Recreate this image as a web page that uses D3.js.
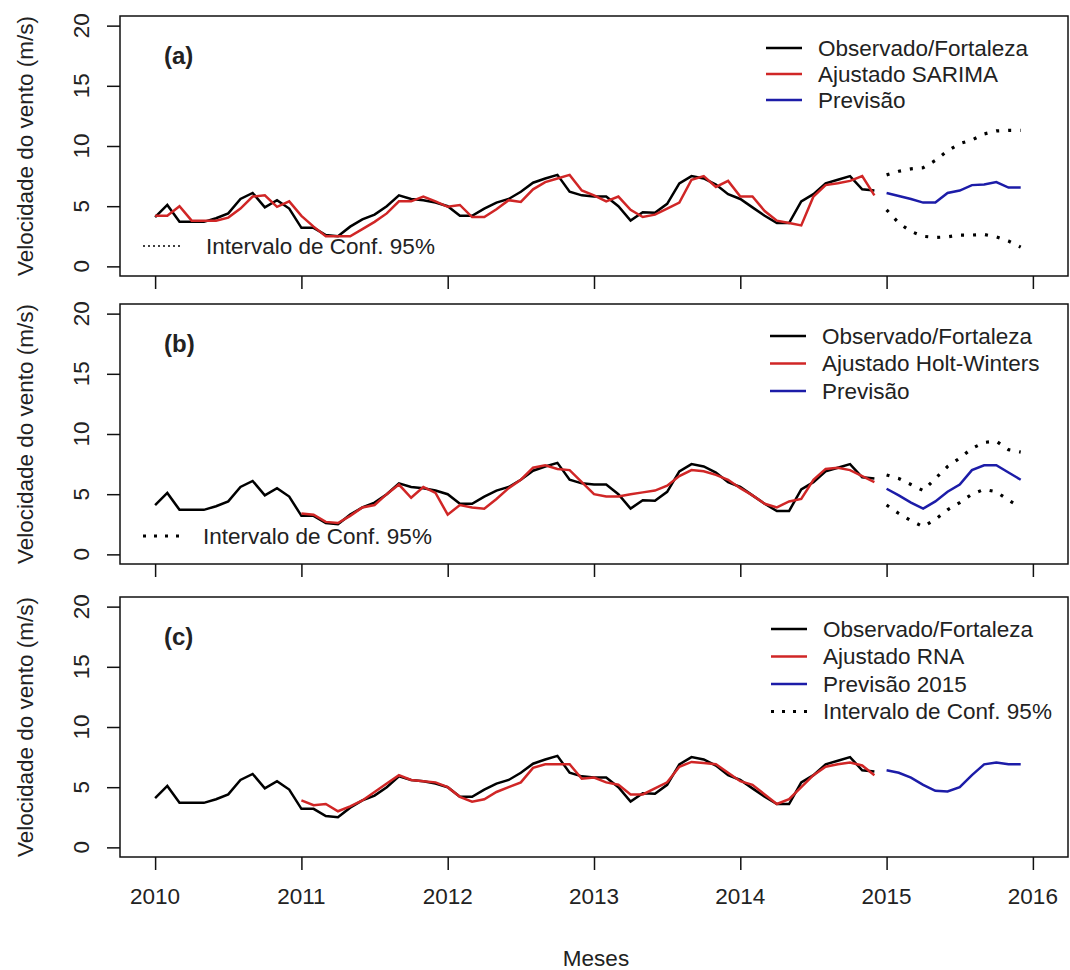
<!DOCTYPE html>
<html>
<head>
<meta charset="utf-8">
<script src="https://cdn.jsdelivr.net/npm/d3@7"></script>
<style>
  body { margin: 0; background: #fff; }
  text { font-family: "Liberation Sans", Arial, sans-serif; fill: #222; }
</style>
</head>
<body>
<div id="chart"></div>
<script>
// monthly series, Jan 2010 .. Dec 2014 (observed) and Jan..Dec 2015 (forecast)
var observed = [4.1, 5.1, 3.7, 3.7, 3.7, 4.0, 4.4, 5.6, 6.1, 4.9, 5.5, 4.8,
                3.2, 3.2, 2.6, 2.5, 3.3, 3.9, 4.3, 5.0, 5.9, 5.6, 5.5, 5.3,
                5.0, 4.2, 4.2, 4.8, 5.3, 5.6, 6.2, 6.95, 7.3, 7.6, 6.2, 5.9,
                5.8, 5.8, 5.0, 3.8, 4.5, 4.45, 5.2, 6.9, 7.5, 7.3, 6.8, 6.0,
                5.6, 4.9, 4.2, 3.6, 3.6, 5.4, 6.0, 6.9, 7.2, 7.5, 6.4, 6.3];

var sarimaFit = [4.2, 4.2, 5.0, 3.8, 3.8, 3.8, 4.05, 4.8, 5.8, 5.9, 4.95, 5.4,
                 4.2, 3.3, 2.5, 2.5, 2.5, 3.1, 3.7, 4.4, 5.4, 5.4, 5.8, 5.4,
                 4.95, 5.1, 4.1, 4.1, 4.75, 5.5, 5.35, 6.4, 7.0, 7.3, 7.6, 6.3,
                 5.9, 5.4, 5.8, 4.7, 4.1, 4.3, 4.8, 5.3, 7.2, 7.5, 6.6, 7.1,
                 5.8, 5.8, 4.6, 3.8, 3.6, 3.4, 5.8, 6.75, 6.9, 7.1, 7.5, 5.9];

// Holt-Winters and RNA fits start in Jan 2011
var hwFit = [3.4, 3.3, 2.7, 2.6, 3.2, 3.9, 4.1, 5.0, 5.8, 4.7, 5.6, 5.1,
             3.3, 4.1, 3.9, 3.8, 4.6, 5.5, 6.2, 7.2, 7.4, 7.1, 7.0, 6.0,
             5.0, 4.8, 4.8, 5.0, 5.15, 5.3, 5.7, 6.5, 7.0, 6.9, 6.6, 6.2,
             5.5, 4.9, 4.2, 3.9, 4.4, 4.6, 6.2, 7.1, 7.2, 7.0, 6.5, 6.0];

var rnaFit = [3.9, 3.5, 3.6, 3.0, 3.4, 3.9, 4.6, 5.3, 6.0, 5.6, 5.5, 5.4,
              5.0, 4.2, 3.8, 4.0, 4.6, 5.0, 5.4, 6.6, 6.9, 6.9, 6.9, 5.7,
              5.8, 5.4, 5.2, 4.4, 4.4, 4.9, 5.4, 6.7, 7.1, 7.0, 6.9, 6.2,
              5.5, 5.2, 4.4, 3.6, 4.0, 5.0, 6.0, 6.7, 6.9, 7.05, 6.8, 6.0];

var sarimaPrev  = [6.1, 5.85, 5.6, 5.3, 5.3, 6.1, 6.3, 6.75, 6.8, 7.0, 6.55, 6.55];
var sarimaUpper = [7.6, 7.9, 8.1, 8.2, 8.8, 9.6, 10.2, 10.5, 11.0, 11.25, 11.3, 11.3];
var sarimaLower = [4.7, 3.6, 2.9, 2.5, 2.4, 2.45, 2.6, 2.6, 2.65, 2.45, 2.1, 1.6];

var hwPrev  = [5.45, 4.9, 4.3, 3.8, 4.4, 5.2, 5.8, 7.0, 7.4, 7.4, 6.8, 6.2];
var hwUpper = [6.6, 6.3, 5.8, 5.3, 6.3, 7.3, 8.0, 8.8, 9.3, 9.4, 8.7, 8.5];
var hwLower = [4.1, 3.4, 2.8, 2.3, 2.9, 3.7, 4.3, 5.0, 5.4, 5.2, 4.5, 3.9];

var rnaPrev = [6.4, 6.2, 5.8, 5.2, 4.7, 4.65, 5.0, 6.0, 6.9, 7.05, 6.9, 6.9];

var yearTicks = [2010, 2011, 2012, 2013, 2014, 2015, 2016];
var yTicks = [0, 5, 10, 15, 20];

var width = 1070, height = 970;
var fontSize = 22.5;
var black = "#000", red = "#d02626", blue = "#1c1ca8";

var svg = d3.select("#chart").append("svg")
    .attr("width", width)
    .attr("height", height);

// shared x scale (R style 4% padding)
var x = d3.scaleLinear().domain([2010 - 0.24, 2016 + 0.24]).range([120, 1068]);

function toPoints(vals, startYear) {
    return vals.map(function(v, i) { return { t: startYear + i / 12, v: v }; });
}

var panels = [
    { label: "(a)", top: 16, fit: sarimaFit, fitStart: 2010, prev: sarimaPrev,
      upper: sarimaUpper, lower: sarimaLower,
      legend: ["Observado/Fortaleza", "Ajustado SARIMA", "Previsão"], legendX: 818, rowGap: 26,
      ciLegend: { x1: 143, x2: 183, tx: 206, dy: 230, dash: "2,3", w: 1.3 } },
    { label: "(b)", top: 304, fit: hwFit, fitStart: 2011, prev: hwPrev,
      upper: hwUpper, lower: hwLower,
      legend: ["Observado/Fortaleza", "Ajustado Holt-Winters", "Previsão"], legendX: 822, rowGap: 27.5,
      ciLegend: { x1: 143, x2: 183, tx: 203, dy: 232, dash: "3,8", w: 3 } },
    { label: "(c)", top: 597, fit: rnaFit, fitStart: 2011, prev: rnaPrev,
      upper: null, lower: null,
      legend: ["Observado/Fortaleza", "Ajustado RNA", "Previsão 2015", "Intervalo de Conf. 95%"], legendX: 823, rowGap: 27.5,
      ciLegend: null }
];

var boxH = 260;
var legendColors = [black, red, blue, black];

panels.forEach(function(p, pi) {
    var y = d3.scaleLinear().domain([-0.8, 20.8]).range([p.top + boxH, p.top]);
    var g = svg.append("g");

    var line = d3.line()
        .x(function(d) { return x(d.t); })
        .y(function(d) { return y(d.v); });

    // box
    g.append("rect")
        .attr("x", x.range()[0]).attr("y", p.top)
        .attr("width", x.range()[1] - x.range()[0]).attr("height", boxH)
        .attr("fill", "none").attr("stroke", "#111").attr("stroke-width", 1.5);

    // y axis
    var yAxis = g.append("g")
        .attr("transform", "translate(" + x.range()[0] + ",0)")
        .call(d3.axisLeft(y).tickValues(yTicks).tickSize(13).tickFormat(""));
    yAxis.select(".domain").remove();
    yAxis.selectAll("line").attr("stroke", "#111").attr("stroke-width", 1.5);

    g.selectAll(".ylab").data(yTicks).enter().append("text")
        .attr("transform", function(d) { return "translate(89," + y(d) + ") rotate(-90)"; })
        .attr("text-anchor", "middle")
        .style("font-size", fontSize + "px")
        .text(function(d) { return d; });

    g.append("text")
        .attr("transform", "translate(33," + (p.top + boxH / 2) + ") rotate(-90)")
        .attr("text-anchor", "middle")
        .style("font-size", fontSize + "px")
        .text("Velocidade do vento (m/s)");

    // x axis ticks
    var xAxis = g.append("g")
        .attr("transform", "translate(0," + (p.top + boxH) + ")")
        .call(d3.axisBottom(x).tickValues(yearTicks).tickSize(13).tickFormat(""));
    xAxis.select(".domain").remove();
    xAxis.selectAll("line").attr("stroke", "#111").attr("stroke-width", 1.5);

    // panel label
    g.append("text")
        .attr("x", 164).attr("y", p.top + 48)
        .style("font-size", "24px").style("font-weight", "bold")
        .text(p.label);

    // series
    g.append("path").datum(toPoints(observed, 2010))
        .attr("d", line).attr("fill", "none")
        .attr("stroke", black).attr("stroke-width", 2.5);
    g.append("path").datum(toPoints(p.fit, p.fitStart))
        .attr("d", line).attr("fill", "none")
        .attr("stroke", red).attr("stroke-width", 2.5);
    g.append("path").datum(toPoints(p.prev, 2015))
        .attr("d", line).attr("fill", "none")
        .attr("stroke", blue).attr("stroke-width", 2.5);

    [p.upper, p.lower].forEach(function(ci) {
        if (!ci) return;
        g.append("path").datum(toPoints(ci, 2015))
            .attr("d", line).attr("fill", "none")
            .attr("stroke", black).attr("stroke-width", 3.2)
            .attr("stroke-dasharray", "3,9");
    });

    // legend
    p.legend.forEach(function(txt, i) {
        var ly = p.top + 32 + i * p.rowGap;
        g.append("line")
            .attr("x1", p.legendX - 52).attr("x2", p.legendX - 16)
            .attr("y1", ly).attr("y2", ly)
            .attr("stroke", legendColors[i])
            .attr("stroke-width", i === 3 ? 3 : 2.5)
            .attr("stroke-dasharray", i === 3 ? "3,8" : null);
        g.append("text")
            .attr("x", p.legendX).attr("y", ly)
            .attr("dy", "0.35em")
            .style("font-size", fontSize + "px")
            .text(txt);
    });

    if (p.ciLegend) {
        var c = p.ciLegend;
        g.append("line")
            .attr("x1", c.x1).attr("x2", c.x2)
            .attr("y1", p.top + c.dy).attr("y2", p.top + c.dy)
            .attr("stroke", black).attr("stroke-width", c.w)
            .attr("stroke-dasharray", c.dash);
        g.append("text")
            .attr("x", c.tx).attr("y", p.top + c.dy)
            .attr("dy", "0.35em")
            .style("font-size", fontSize + "px")
            .text("Intervalo de Conf. 95%");
    }

    // year labels only under last panel
    if (pi === panels.length - 1) {
        g.selectAll(".xlab").data(yearTicks).enter().append("text")
            .attr("x", function(d) { return x(d); })
            .attr("y", 904)
            .attr("text-anchor", "middle")
            .style("font-size", fontSize + "px")
            .text(function(d) { return d; });
    }
});

svg.append("text")
    .attr("x", (x.range()[0] + x.range()[1]) / 2 + 2).attr("y", 966)
    .attr("text-anchor", "middle")
    .style("font-size", fontSize + "px")
    .text("Meses");
</script>
</body>
</html>
